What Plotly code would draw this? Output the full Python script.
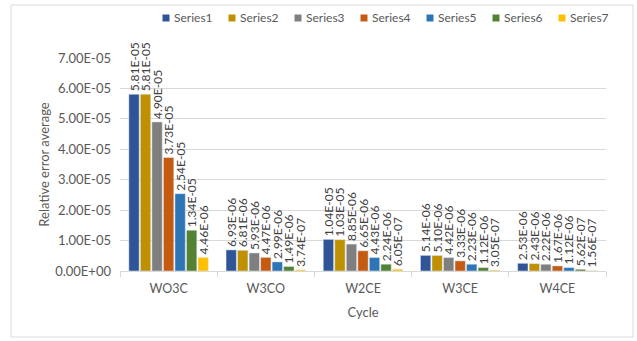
import plotly.graph_objects as go

categories = ["WO3C", "W3CO", "W2CE", "W3CE", "W4CE"]
series_names = ["Series1", "Series2", "Series3", "Series4", "Series5", "Series6", "Series7"]
s1 = [5.81e-5, 6.93e-6, 1.04e-5, 5.14e-6, 2.53e-6]
s2 = [5.81e-5, 6.81e-6, 1.03e-5, 5.10e-6, 2.43e-6]
s3 = [4.90e-5, 5.93e-6, 8.85e-6, 4.42e-6, 2.22e-6]
s4 = [3.73e-5, 4.47e-6, 6.65e-6, 3.33e-6, 1.67e-6]
s5 = [2.54e-5, 2.99e-6, 4.43e-6, 2.23e-6, 1.12e-6]
s6 = [1.34e-5, 1.49e-6, 2.24e-6, 1.12e-6, 5.62e-7]
s7 = [4.46e-6, 3.74e-7, 6.05e-7, 3.05e-7, 1.56e-7]
series_values = [s1, s2, s3, s4, s5, s6, s7]
colors = ["#2F5597", "#BF9000", "#7F7F7F", "#C55A11", "#2E75B6", "#548235", "#FFC000"]
y_ticks = [0, 1e-5, 2e-5, 3e-5, 4e-5, 5e-5, 6e-5, 7e-5]

FONT = "Lato, Open Sans, sans-serif"
W, H = 637, 341
ML, MR, MT, MB = 120, 31, 58, 70
PW, PH = W - ML - MR, H - MT - MB

def px_x(p):
    return (p - ML) / PW

def px_y(p):
    return (H - MB - p) / PH

fig = go.Figure()
for name, vals, col in zip(series_names, series_values, colors):
    fig.add_trace(go.Bar(
        x=categories, y=vals, name=name, marker_color=col,
        text=[f"{v:.2E}" for v in vals],
        textposition="outside", textangle=-90,
        textfont=dict(size=12, color="#404040", family=FONT),
        cliponaxis=False, constraintext="none", showlegend=False,
    ))

shapes = [dict(type="rect", xref="paper", yref="paper",
               x0=px_x(11), x1=px_x(633), y0=px_y(337), y1=px_y(5),
               line=dict(color="#D9D9D9", width=1), layer="below")]
annotations = []
# legend row (drawn manually to match the compact spacing of the original)
for i, (name, col) in enumerate(zip(series_names, colors)):
    cx = 166 + 66 * i
    shapes.append(dict(type="rect", xref="paper", yref="paper",
                       xsizemode="pixel", ysizemode="pixel",
                       xanchor=px_x(cx), yanchor=px_y(18),
                       x0=-3.5, x1=3.5, y0=-3.5, y1=3.5,
                       fillcolor=col, line=dict(width=0)))
    annotations.append(dict(x=px_x(cx + 6), y=px_y(18), xref="paper", yref="paper",
                            text=name, showarrow=False, xanchor="left", yanchor="middle",
                            font=dict(size=12, color="#595959", family=FONT)))

fig.update_layout(
    width=W, height=H,
    margin=dict(l=ML, r=MR, t=MT, b=MB),
    paper_bgcolor="white", plot_bgcolor="white",
    barmode="group", bargap=0.17, bargroupgap=0.1,
    font=dict(family=FONT, color="#595959", size=12),
    showlegend=False,
    xaxis=dict(title=dict(text="Cycle", font=dict(size=13, color="#595959"), standoff=12),
               showline=True, linecolor="#D9D9D9", linewidth=1,
               ticks="outside", tickson="boundaries", tickcolor="#D9D9D9", ticklen=5,
               ticklabelstandoff=6,
               tickfont=dict(size=12.5, color="#595959")),
    yaxis=dict(title=dict(text="Relative error average", font=dict(size=13, color="#595959"), standoff=2),
               range=[0, 7e-5], tickvals=y_ticks,
               ticktext=[f"{v:.2E}" for v in y_ticks],
               showgrid=True, gridcolor="#D9D9D9", gridwidth=1, zeroline=False,
               ticks="", ticklabelstandoff=8,
               tickfont=dict(size=13, color="#595959")),
    shapes=shapes,
    annotations=annotations,
)

fig.write_html("out.html")
